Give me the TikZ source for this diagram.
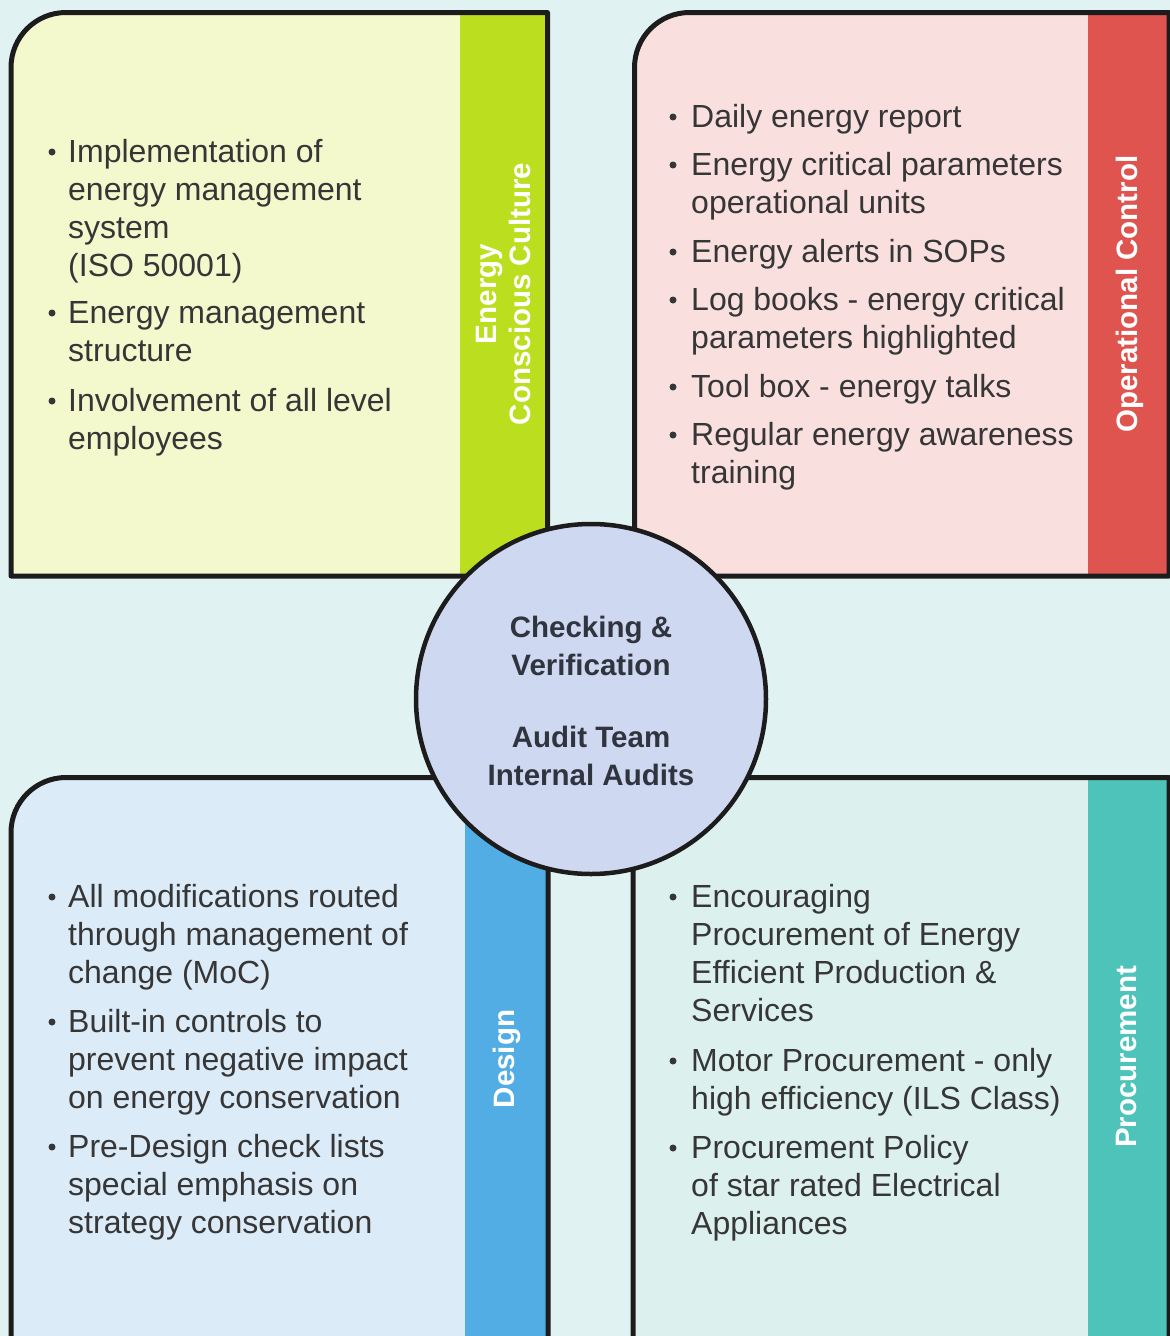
\documentclass[tikz,border=0pt]{standalone}
\usepackage{fontspec}
\setmainfont{Liberation Sans}
\definecolor{bg}{HTML}{E0F3F2}
\definecolor{boxblack}{HTML}{1C1C1C}
\definecolor{txt}{HTML}{363636}
\definecolor{hubtxt}{HTML}{30343F}
\definecolor{tlfill}{HTML}{F4F8CD}
\definecolor{tlband}{HTML}{BBDF1F}
\definecolor{trfill}{HTML}{FADFDF}
\definecolor{trband}{HTML}{E05450}
\definecolor{blfill}{HTML}{DCEBF8}
\definecolor{blband}{HTML}{52ADE5}
\definecolor{brfill}{HTML}{DCF1EE}
\definecolor{brband}{HTML}{4EC3BA}
\definecolor{hubfill}{HTML}{CED8F0}
\newcommand\mylines[1]{\begin{tabular}[t]{@{}l@{}}#1\end{tabular}}
\newcommand\mycentred[1]{\begin{tabular}[t]{@{}c@{}}#1\end{tabular}}
\begin{document}
\begin{tikzpicture}[x=1pt,y=-1pt,
  boxline/.style={draw=boxblack, line width=5pt, line join=round},
  itemtext/.style={anchor=base west, inner sep=0pt, text=txt, font=\fontsize{32}{38.3}\selectfont},
  dotb/.style={circle, fill=txt, inner sep=0pt, minimum size=7pt},
  bandlabel/.style={anchor=base, rotate=90, inner sep=0pt, text=white, font=\fontsize{29.5}{34}\selectfont\bfseries},
  hub/.style={circle, draw=boxblack, line width=4.5pt, fill=hubfill, minimum size=350pt, inner sep=0pt},
  hubtext/.style={anchor=base, inner sep=0pt, text=hubtxt, font=\fontsize{29.5}{38}\selectfont\bfseries}]
\useasboundingbox (0,0) rectangle (1170,1336);
\clip (0,0) rectangle (1170,1336);
\fill[bg] (0,0) rectangle (1170,1336);

% top-left box
\fill[tlfill] (11,576) [rounded corners=55pt] -- (11,12.5) -- (200,12.5) [sharp corners] -- (547.5,12.5) -- (547.5,576) -- cycle;
\fill[tlband] (460,12.5) rectangle (547.5,576);
\draw[boxline] (11,576) [rounded corners=55pt] -- (11,12.5) -- (200,12.5) [sharp corners] -- (547.5,12.5) -- (547.5,576) -- cycle;

% top-right box
\fill[trfill] (634.5,576) [rounded corners=55pt] -- (634.5,12.5) -- (800,12.5) [sharp corners] -- (1169,12.5) -- (1169,576) -- cycle;
\fill[trband] (1088,12.5) rectangle (1169,576);
\draw[boxline] (634.5,576) [rounded corners=55pt] -- (634.5,12.5) -- (800,12.5) [sharp corners] -- (1169,12.5) -- (1169,576) -- cycle;

% bottom-left box
\fill[blfill] (11,1350) [rounded corners=55pt] -- (11,777.5) -- (200,777.5) [sharp corners] -- (548,777.5) -- (548,1350) -- cycle;
\fill[blband] (465,777.5) rectangle (548,1350);
\draw[boxline] (11,1350) [rounded corners=55pt] -- (11,777.5) -- (200,777.5) [sharp corners] -- (548,777.5) -- (548,1350);

% bottom-right box
\fill[brfill] (633,1350) [rounded corners=55pt] -- (633,777.5) -- (800,777.5) [sharp corners] -- (1169,777.5) -- (1169,1350) -- cycle;
\fill[brband] (1088,777.5) rectangle (1169,1350);
\draw[boxline] (633,1350) [rounded corners=55pt] -- (633,777.5) -- (800,777.5) [sharp corners] -- (1169,777.5) -- (1169,1350);

% band labels
\node[bandlabel] (labECC) at (496,294) {\mycentred{Energy\\Conscious Culture}};
\node[bandlabel] (labOC) at (1137,294) {Operational Control};
\node[bandlabel] (labD) at (514,1059) {Design};
\node[bandlabel] (labP) at (1136,1057) {Procurement};

% top-left items
\node[itemtext] (tl1) at (68,162) {\mylines{Implementation of\\energy management\\system\\(ISO 50001)}};
\node[itemtext] (tl2) at (68,323) {\mylines{Energy management\\structure}};
\node[itemtext] (tl3) at (68,411) {\mylines{Involvement of all level\\employees}};
\node[dotb] (tld1) at (52,152) {};
\node[dotb] (tld2) at (52,313) {};
\node[dotb] (tld3) at (52,401) {};

% top-right items
\node[itemtext] (tr1) at (691,127) {\mylines{Daily energy report}};
\node[itemtext] (tr2) at (691,175) {\mylines{Energy critical parameters\\operational units}};
\node[itemtext] (tr3) at (691,262) {\mylines{Energy alerts in SOPs}};
\node[itemtext] (tr4) at (691,310) {\mylines{Log books - energy critical\\parameters highlighted}};
\node[itemtext] (tr5) at (691,397) {\mylines{Tool box - energy talks}};
\node[itemtext] (tr6) at (691,445) {\mylines{Regular energy awareness\\training}};
\node[dotb] (trd1) at (673,117) {};
\node[dotb] (trd2) at (673,165) {};
\node[dotb] (trd3) at (673,252) {};
\node[dotb] (trd4) at (673,300) {};
\node[dotb] (trd5) at (673,387) {};
\node[dotb] (trd6) at (673,435) {};

% bottom-left items
\node[itemtext] (bl1) at (68,907) {\mylines{All modifications routed\\through management of\\change (MoC)}};
\node[itemtext] (bl2) at (68,1032) {\mylines{Built-in controls to\\prevent negative impact\\on energy conservation}};
\node[itemtext] (bl3) at (68,1157) {\mylines{Pre-Design check lists\\special emphasis on\\strategy conservation}};
\node[dotb] (bld1) at (52,897) {};
\node[dotb] (bld2) at (52,1022) {};
\node[dotb] (bld3) at (52,1147) {};

% bottom-right items
\node[itemtext] (br1) at (691,907) {\mylines{Encouraging\\Procurement of Energy\\Efficient Production \&\\Services}};
\node[itemtext] (br2) at (691,1071) {\mylines{Motor Procurement - only\\high efficiency (ILS Class)}};
\node[itemtext] (br3) at (691,1158) {\mylines{Procurement Policy\\of star rated Electrical\\Appliances}};
\node[dotb] (brd1) at (673,897) {};
\node[dotb] (brd2) at (673,1061) {};
\node[dotb] (brd3) at (673,1148) {};

% central hub
\node[hub] (hubc) at (591,699) {};
\node[hubtext] (hubt) at (591,637) {\mycentred{Checking \&\\Verification\\[34pt]Audit Team\\Internal Audits}};
\end{tikzpicture}
\end{document}
